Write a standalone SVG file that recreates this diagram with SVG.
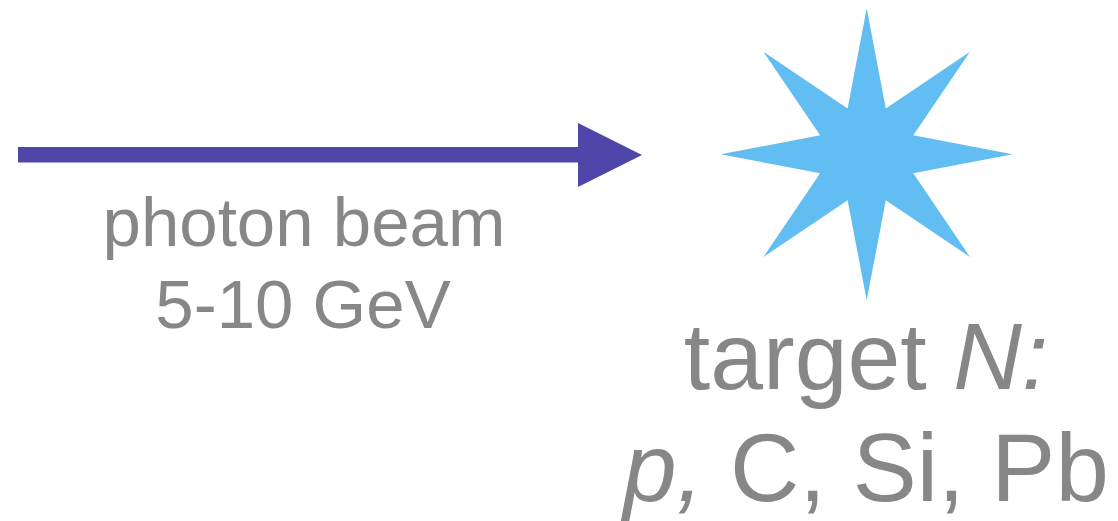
<svg xmlns="http://www.w3.org/2000/svg" width="1118" height="521" viewBox="0 0 1118 521">
<style>
.lbl{font-family:"Liberation Sans",Arial,sans-serif;fill:#878787;text-anchor:middle}
</style>
<rect width="1118" height="521" fill="#ffffff"/>
<g id="connectors">
<g id="beam">
<rect x="18" y="147" width="562" height="15.5" fill="#4E46A9"/>
<polygon points="578,123 642,155 578,187" fill="#4E46A9"/>
</g>
</g>
<g id="beam-label">
<text class="lbl" x="304" y="246" font-size="69">photon beam</text>
<text class="lbl" x="303" y="328" font-size="69">5-10 GeV</text>
</g>
<g id="target">
<polygon fill="#62BEF2" points="866.7,8.3 885.8,108.4 970,51.7 913.3,135.3 1012.7,154.3 913.3,173.3 970,257 885.8,200.2 866.7,300.3 847.6,200.2 763.4,257 820.1,173.3 720.7,154.3 820.1,135.3 763.4,51.7 847.6,108.4"/>
</g>
<g id="target-label">
<text class="lbl" x="866" y="389" font-size="95">target <tspan font-style="italic">N:</tspan></text>
<text class="lbl" x="866" y="501" font-size="96"><tspan font-style="italic">p,</tspan> C, Si, Pb</text>
</g>
</svg>
